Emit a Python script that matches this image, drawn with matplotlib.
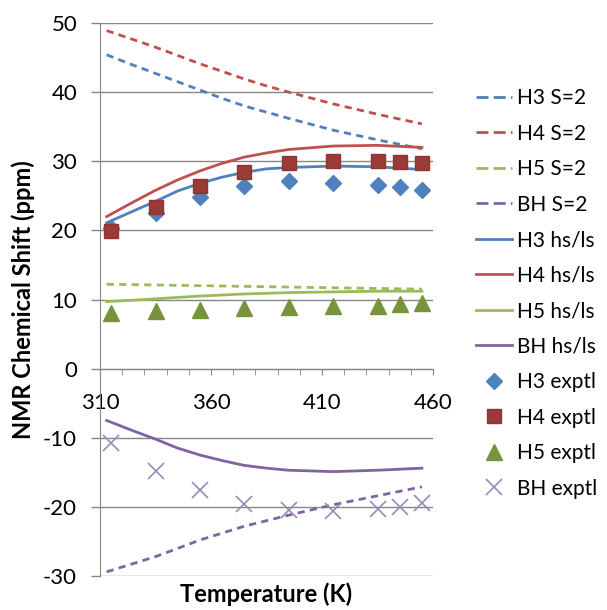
import matplotlib
matplotlib.use("Agg")
import matplotlib.pyplot as plt
from matplotlib.lines import Line2D
from matplotlib.ticker import MultipleLocator

plt.rcParams["font.family"] = ["Lato", "DejaVu Sans"]
plt.rcParams["axes.unicode_minus"] = False

# =====================================
# DATA
# =====================================

temp_calc = [313, 325, 335, 345, 355, 365, 375, 385, 395, 415, 435, 455]

h3_s2 = [45.4, 43.9, 42.7, 41.5, 40.3, 39.1, 38.0, 37.1, 36.2, 34.5, 33.1, 31.8]
h4_s2 = [48.9, 47.6, 46.5, 45.3, 44.1, 43.0, 41.9, 40.9, 40.0, 38.3, 36.8, 35.4]
h5_s2 = [12.2, 12.15, 12.1, 12.05, 12.0, 11.95, 11.9, 11.85, 11.8, 11.7, 11.6, 11.5]
bh_s2 = [-29.4, -28.2, -27.2, -26.0, -24.8, -23.8, -22.8, -22.0, -21.2, -19.7, -18.4, -17.1]

h3_hsls = [21.1, 22.8, 24.2, 25.7, 26.8, 27.7, 28.4, 28.9, 29.1, 29.3, 29.2, 28.8]
h4_hsls = [22.0, 24.1, 25.8, 27.3, 28.6, 29.7, 30.6, 31.2, 31.7, 32.2, 32.3, 32.0]
h5_hsls = [9.7, 9.9, 10.1, 10.3, 10.5, 10.65, 10.8, 10.9, 11.0, 11.1, 11.2, 11.2]
bh_hsls = [-7.5, -9.0, -10.2, -11.5, -12.5, -13.3, -14.0, -14.4, -14.7, -14.9, -14.7, -14.4]

temp_exp = [315, 335, 355, 375, 395, 415, 435, 445, 455]

h3_exp = [20.3, 22.5, 24.9, 26.4, 27.2, 26.9, 26.6, 26.3, 25.9]
h4_exp = [19.9, 23.4, 26.4, 28.5, 29.7, 30.1, 30.1, 29.9, 29.8]
h5_exp = [8.0, 8.3, 8.5, 8.7, 8.9, 9.1, 9.1, 9.4, 9.5]
bh_exp = [-10.8, -14.8, -17.6, -19.6, -20.5, -20.6, -20.3, -20.0, -19.5]

x_ticks = [310, 360, 410, 460]
y_ticks = [-30, -20, -10, 0, 10, 20, 30, 40, 50]

# =====================================
# COLOURS / STYLES
# =====================================

blue = "#4F81BD"
red = "#C0504D"
green = "#9BBB59"
purple = "#8064A2"
grid_gray = "#868686"

dash = (2.6, 1.9)
legend_dash = (4.3, 1.9)
lw = 2

# =====================================
# PLOT
# =====================================

fig = plt.figure(figsize=(6.07, 6.10), dpi=100)
ax = fig.add_axes([100 / 607, 1 - 576 / 610, 333 / 607, 553 / 610])

dashed_series = [
    ("H3 S=2", h3_s2, blue),
    ("H4 S=2", h4_s2, red),
    ("H5 S=2", h5_s2, green),
    ("BH S=2", bh_s2, purple),
]
solid_series = [
    ("H3 hs/ls", h3_hsls, blue),
    ("H4 hs/ls", h4_hsls, red),
    ("H5 hs/ls", h5_hsls, green),
    ("BH hs/ls", bh_hsls, purple),
]

handles = []
labels = []

for name, vals, col in dashed_series:
    ax.plot(temp_calc, vals, color=col, lw=lw, dashes=dash)
    handles.append(Line2D([], [], color=col, lw=lw, dashes=legend_dash))
    labels.append(name)

for name, vals, col in solid_series:
    line, = ax.plot(temp_calc, vals, color=col, lw=lw)
    handles.append(line)
    labels.append(name)

m1, = ax.plot(temp_exp, h3_exp, "D", color=blue, ms=8, mec=blue, ls="none")
m2, = ax.plot(temp_exp, h4_exp, "s", color="#9B3B38", ms=10, mec="#8C3532",
              ls="none")
m3, = ax.plot(temp_exp, h5_exp, "^", color="#77933C", ms=11, mec="#77933C",
              ls="none")
m4, = ax.plot(temp_exp, bh_exp, "x", color="#9A8AB8", ms=11, mew=1.2,
              ls="none")
handles += [m1, m2, m3, m4]
labels += ["H3 exptl", "H4 exptl", "H5 exptl", "BH exptl"]

# axes
ax.set_xlim(310, 460)
ax.set_ylim(-30, 50)

ax.set_xticks(x_ticks)
ax.xaxis.set_minor_locator(MultipleLocator(10))
ax.set_yticks(y_ticks)

ax.yaxis.grid(True, color=grid_gray, lw=1)
ax.set_axisbelow(True)

for side in ["top", "right"]:
    ax.spines[side].set_visible(False)
ax.spines["bottom"].set_position(("data", 0))
ax.spines["bottom"].set_color(grid_gray)
ax.spines["left"].set_color(grid_gray)

ax.tick_params(axis="x", which="both", direction="out", length=4.5,
               color=grid_gray, labelsize=16, pad=13)
ax.tick_params(axis="y", direction="out", length=6.5, width=1,
               color=grid_gray, labelsize=16, pad=10)

ax.set_ylabel("NMR Chemical Shift (ppm)", fontsize=17, fontweight="bold",
              labelpad=6)
ax.text(0.5, -0.012, "Temperature (K)", transform=ax.transAxes,
        ha="center", va="top", fontsize=17, fontweight="bold")

ax.legend(handles, labels, loc="upper left",
          bbox_to_anchor=(476 / 607, 1 - 88 / 610),
          bbox_transform=fig.transFigure, frameon=False, fontsize=15,
          handlelength=1.75, handletextpad=0.2, labelspacing=0.745,
          borderpad=0, borderaxespad=0, numpoints=1)

fig.savefig("out.png", dpi=100)
